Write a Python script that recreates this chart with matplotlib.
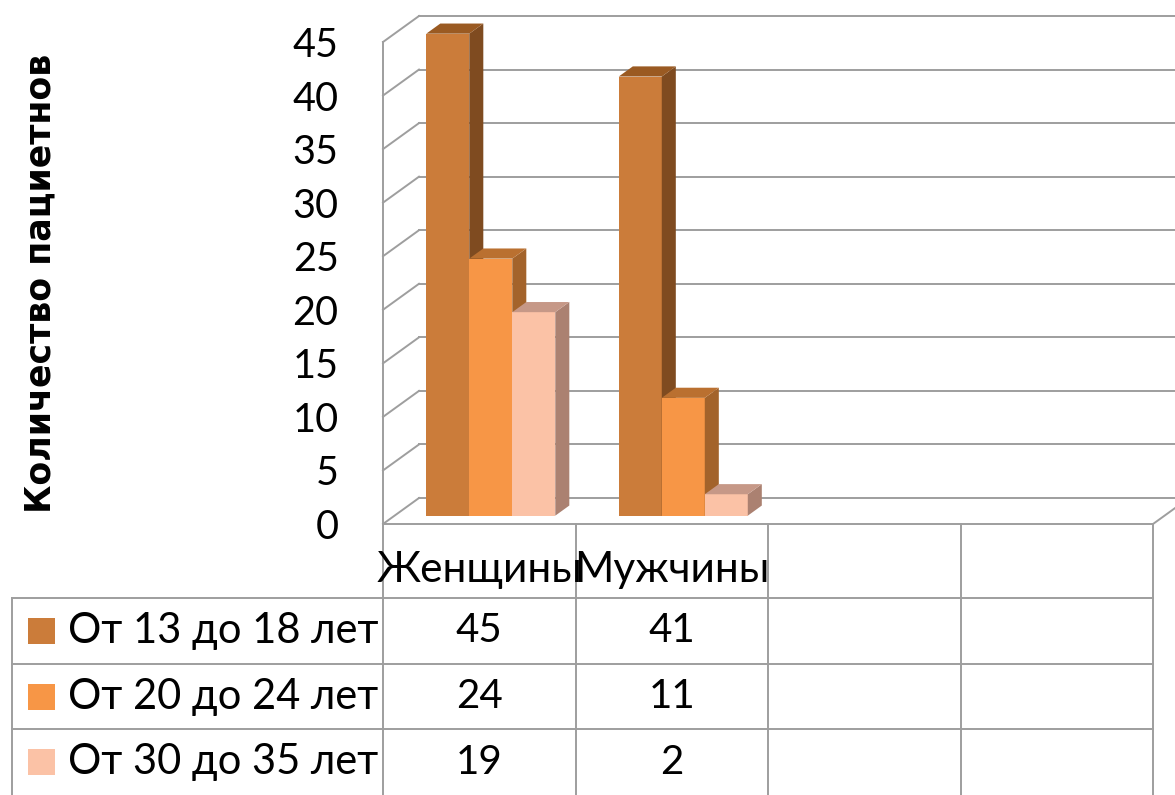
import numpy as np
import matplotlib
matplotlib.use("Agg")
import matplotlib.pyplot as plt
from matplotlib.patches import Polygon, Rectangle

# data
categories = ["Женщины", "Мужчины", "", ""]
series_names = ["От 13 до 18 лет", "От 20 до 24 лет", "От 30 до 35 лет"]
values = [
    [45, 41],   # От 13 до 18 лет
    [24, 11],   # От 20 до 24 лет
    [19, 2],    # От 30 до 35 лет
]
y_ticks = list(range(0, 46, 5))
y_label = "Количество пациетнов"

# colours: front / side / top faces
front_col = ["#CB7C3A", "#F79646", "#FBC2A6"]
side_col = ["#7F4B20", "#A3632B", "#AB8171"]
top_col = ["#9A5A22", "#BA7030", "#C69887"]
grid_col = "#9E9E9E"

plt.rcParams["font.family"] = ["Lato", "DejaVu Sans"]

W, H = 1175, 795
fig = plt.figure(figsize=(W / 100, H / 100), dpi=100)


def box(left, top, right, bottom):
    # pixel box -> figure fraction rect
    return [left / W, 1 - bottom / H, (right - left) / W, (bottom - top) / H]


# front plane of the 3d plot
PL, PR, PT, PB = 383, 1153, 42, 524
ax = fig.add_axes(box(PL, PT, PR, PB))
ncat = len(categories)
ymax = 45
ax.set_xlim(0, ncat)
ax.set_ylim(0, ymax)
for s in ax.spines.values():
    s.set_visible(False)
ax.set_xticks([])
ax.set_yticks(y_ticks)
ax.tick_params(axis="y", length=0, pad=32, labelsize=28.5)

# oblique depth offset (data units)
px_x = (PR - PL) / ncat
px_y = (PB - PT) / ymax
ddx = 36 / px_x
ddy = 26 / px_y

lw = 1.4
# back wall gridlines + left wall diagonals
for v in y_ticks:
    ax.plot([ddx, ncat + ddx + 1], [v + ddy, v + ddy], color=grid_col, lw=lw, clip_on=False, zorder=1)
    ax.plot([0, ddx], [v, v + ddy], color=grid_col, lw=lw, clip_on=False, zorder=1)
ax.plot([0, 0], [0, ymax], color=grid_col, lw=lw, clip_on=False, zorder=1)
# floor
ax.plot([0, ncat], [0, 0], color=grid_col, lw=lw, clip_on=False, zorder=1)
ax.plot([ncat, ncat + ddx], [0, ddy], color=grid_col, lw=lw, clip_on=False, zorder=1)

# bars
nser = len(series_names)
bw = 0.2234
f0, f1 = 0.32, 0.71
for ci in range(ncat):
    for si in range(nser):
        if ci >= len(values[si]):
            continue
        v = values[si][ci]
        x0 = ci + 0.5 - nser * bw / 2 + si * bw + f0 * ddx
        x1 = x0 + bw
        yb = f0 * ddy
        yt = v + f0 * ddy
        ox = (f1 - f0) * ddx
        oy = (f1 - f0) * ddy
        z = 3 + ci * 10 + si
        ax.add_patch(Rectangle((x0, yb), bw, v, facecolor=front_col[si], edgecolor="none", zorder=z, clip_on=False))
        ax.add_patch(Polygon([(x1, yb), (x1 + ox, yb + oy), (x1 + ox, yt + oy), (x1, yt)],
                             facecolor=side_col[si], edgecolor="none", zorder=z, clip_on=False))
        ax.add_patch(Polygon([(x0, yt), (x1, yt), (x1 + ox, yt + oy), (x0 + ox, yt + oy)],
                             facecolor=top_col[si], edgecolor="none", zorder=z, clip_on=False))

fig.text(40 / W, 1 - 283 / H, y_label, rotation=90, ha="center", va="center",
         fontsize=25, fontweight="bold", family=["DejaVu Sans"])

# data table below the plot
TL, TT, TR, TB = 12, 598, 1153, 795
tab = fig.add_axes(box(TL, TT, TR, TB))
lab_w = (PL - TL) / px_x
tab.set_xlim(-lab_w, ncat)
tab.set_ylim(nser, 0)
tab.axis("off")
row_px = (TB - TT) / nser
head = (TT - PB) / row_px

for i in range(ncat + 1):
    tab.plot([i, i], [-head, nser], color=grid_col, lw=lw, clip_on=False)
for r in range(nser):
    tab.plot([-lab_w, ncat], [r, r], color=grid_col, lw=lw, clip_on=False)
tab.plot([-lab_w, -lab_w], [0, nser], color=grid_col, lw=lw, clip_on=False)

for ci, name in enumerate(categories):
    tab.text(ci + 0.5, -head * 0.38, name, ha="center", va="center", fontsize=30.5, clip_on=False)

sw = 27 / px_x
sh = 26 / row_px
for si, name in enumerate(series_names):
    tab.add_patch(Rectangle((-lab_w + 16 / px_x, si + 0.5 - sh / 2), sw, sh,
                            facecolor=front_col[si], edgecolor="none", clip_on=False))
    tab.text(-lab_w + 56 / px_x, si + 0.5, name, ha="left", va="center", fontsize=30)
    for ci, v in enumerate(values[si]):
        tab.text(ci + 0.5, si + 0.5, str(v), ha="center", va="center", fontsize=29)

fig.savefig("out.png", dpi=100)
